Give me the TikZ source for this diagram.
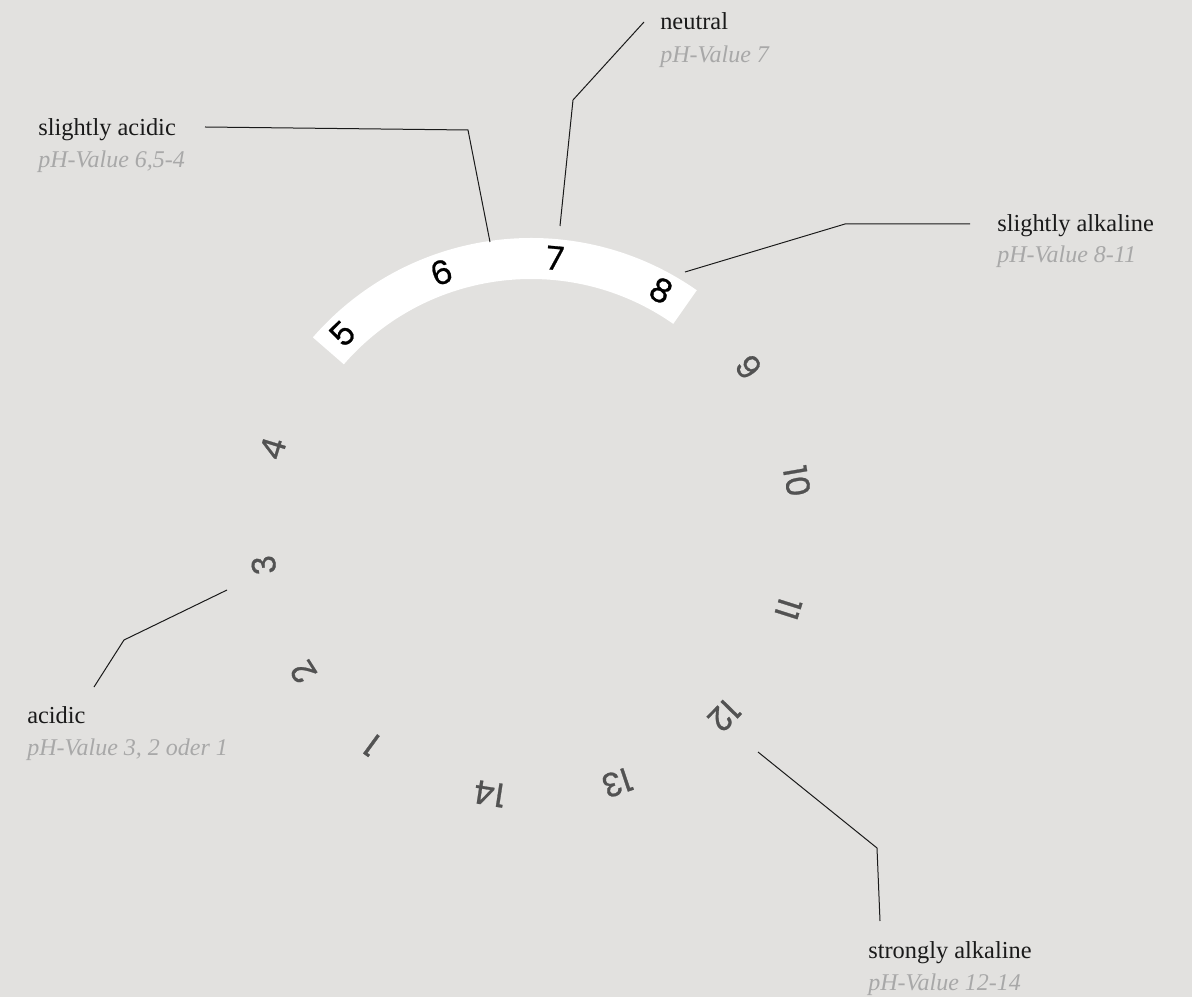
\documentclass[tikz,border=0pt]{standalone}
\usepackage{fontspec}
\setmainfont{Liberation Serif}
\newfontfamily\numfont[FakeBold=0.8]{Poppins}
\usetikzlibrary{calc}
\definecolor{paper}{RGB}{226,225,223}
\definecolor{ink}{RGB}{26,26,26}
\definecolor{soft}{RGB}{168,168,168}
\definecolor{digit}{RGB}{82,82,82}
\tikzset{
	title/.style={anchor=base west,inner sep=0pt,text=ink,font=\fontsize{18.3}{20}\selectfont},
	value/.style={anchor=base west,inner sep=0pt,text=soft,font=\fontsize{18}{20}\selectfont\itshape},
	lead/.style={draw=ink,line width=0.75pt,line join=round},
	phnum/.style={inner sep=0pt,font=\numfont\fontsize{24.5}{24.5}\selectfont}
}
\begin{document}
\begin{tikzpicture}[x=0.75pt,y=0.75pt]
	\def\cx{531} \def\cy{470} \def\rn{270} \def\rin{248} \def\rout{289}
	\fill[paper] (0,0) rectangle (1192,997);
	\coordinate (c) at (\cx,\cy);
	% white band behind 5-8
	\fill[white] ($(c)+(55:\rout)$) arc[start angle=55,end angle=139,radius=\rout]
		-- ($(c)+(139:\rin)$) arc[start angle=139,end angle=55,radius=\rin] -- cycle;
	\foreach \k/\ang in {1/233.9,2/212.5,3/188.1,4/163.1,9/36.4,10/9.8,11/-17.6,12/-44.3,13/-71.4,14/-98.8}
		\node[phnum,text=digit,rotate=\ang-90] (n\k) at ($(c)+(\ang:\rn)$) {\k};
	\foreach \k/\ang in {5/134.3,6/109.4,7/84.9,8/61.2}
		\node[phnum,text=black,rotate=\ang-90] (n\k) at ($(c)+(\ang:\rn)$) {\k};
	% labels
	\node[title] (sacid) at (38,861) {slightly acidic};
	\node[value] (sacidv) at (38,829) {pH-Value 6,5-4};
	\node[title] (neut) at (660,967) {neutral};
	\node[value] (neutv) at (660,934) {pH-Value 7};
	\node[title] (salk) at (997,765) {slightly alkaline};
	\node[value] (salkv) at (997,734) {pH-Value 8-11};
	\node[title] (acid) at (27,274) {acidic};
	\node[value] (acidv) at (27,242) {pH-Value 3, 2 oder 1};
	\node[title] (stalk) at (868,39) {strongly alkaline};
	\node[value] (stalkv) at (868,7) {pH-Value 12-14};
	% leader lines
	\coordinate (sacid-a) at (205,870); \coordinate (sacid-b) at (468,867); \coordinate (sacid-c) at (490,755);
	\coordinate (neut-a) at (644,975); \coordinate (neut-b) at (573,897); \coordinate (neut-c) at (560,771);
	\coordinate (salk-a) at (970,773); \coordinate (salk-b) at (845,773); \coordinate (salk-c) at (685,725);
	\coordinate (acid-a) at (227,407); \coordinate (acid-b) at (124,357); \coordinate (acid-c) at (94,310);
	\coordinate (stalk-a) at (758,245); \coordinate (stalk-b) at (877,149); \coordinate (stalk-c) at (880,76);
	\foreach \n in {sacid,neut,salk,acid,stalk}
		\draw[lead] (\n-a)--(\n-b)--(\n-c);
\end{tikzpicture}
\end{document}
